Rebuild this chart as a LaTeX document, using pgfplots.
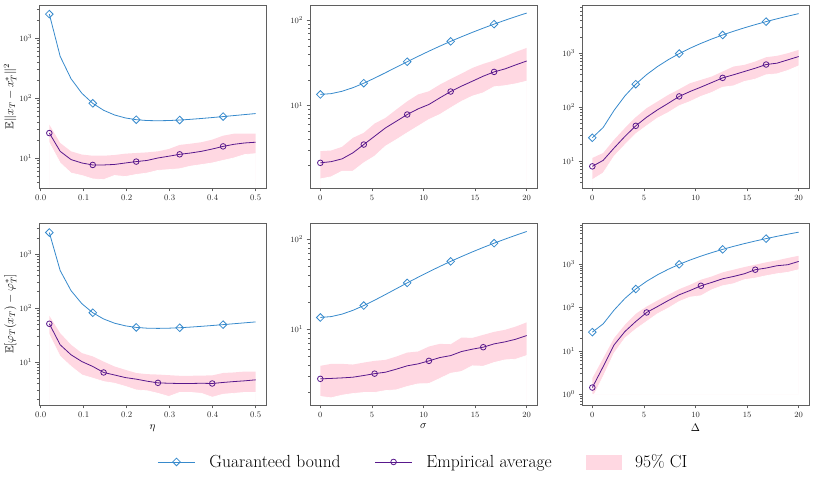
\documentclass[border=0pt]{standalone}
\usepackage{pgfplots}
\usepackage{pgfplotstable}
\usepackage{amssymb}
\pgfplotsset{compat=1.18}
\definecolor{bnd}{RGB}{55,138,204}
\definecolor{emp}{RGB}{88,24,140}
\definecolor{ci}{RGB}{255,216,226}
\definecolor{spine}{RGB}{95,95,95}

\pgfplotstableread{
x b m lo hi
0.02 2503 26 17.8 36
0.04526 493.6 12.9 8.25 17.8
0.07053 209.1 9.4 5.6 12.9
0.09579 119.6 8.25 5.1 11.4
0.12105 81.35 7.65 4.47 10.9
0.14632 62.34 7.65 4.35 10.9
0.17158 52.13 7.8 5.1 11.2
0.19684 46.49 8.25 4.9 11.8
0.22211 43.48 8.7 5.3 12.1
0.24737 42.08 9.1 5.6 12.4
0.27263 41.71 10.0 6.2 12.9
0.29789 42.06 10.7 6.4 14.1
0.32316 42.89 11.5 6.6 16.5
0.34842 44.08 12.1 7.3 17.3
0.37368 45.53 12.9 7.75 18.3
0.39895 47.18 14.1 8.25 20.2
0.42421 48.98 15.6 9.1 23.5
0.44947 50.90 16.9 10.0 25.4
0.47474 52.91 17.8 11.4 25.4
0.5 55.0 18.3 11.8 25.4
}\tA

\pgfplotstableread{
x b m lo hi
0 13.5 2.13 1.38 2.92
1.0526 13.80 2.2 1.46 2.97
2.1053 14.70 2.37 1.70 3.28
3.1579 16.19 2.79 1.70 4.18
4.2105 18.29 3.49 2.13 4.79
5.2632 20.98 4.37 2.55 6.15
6.3158 24.27 5.47 3.34 7.17
7.3684 28.16 6.55 3.98 8.98
8.4211 32.65 7.85 4.79 11.2
9.4737 37.73 9.14 5.73 13.5
10.5263 43.42 10.3 6.86 14.7
11.5789 49.70 12.3 7.85 17.6
12.6316 56.58 14.6 9.4 20.5
13.6842 64.06 16.9 11.2 23.7
14.7368 72.14 19.3 12.9 27.6
15.7895 80.81 22.1 14.1 30.8
16.8421 90.09 24.8 16.6 33.7
17.8947 99.96 26.9 17.1 37.8
18.9474 110.43 30 18 42.6
20 121.5 33.3 19.3 47.4
}\tB

\pgfplotstableread{
x b m lo hi
0 27 7.96 4.5 11.4
1.0526 41.96 10.3 6.0 14.1
2.1053 86.83 17.4 12.2 24.8
3.1579 161.6 28.6 20 40.9
4.2105 266.4 45 32 65
5.2632 401.0 65 45 95.6
6.3158 565.5 89 62.5 127
7.3684 760.0 118 79.5 169
8.4211 984.3 158 106 215
9.4737 1238.6 195 127 278
10.5263 1522.8 235 158 320
11.5789 1837.0 286 187 370
12.6316 2181.1 349 234 458
13.6842 2555.0 398 248 566
14.7368 2958.8 458 299 608
15.7895 3392.7 527 330 701
16.8421 3856.4 617 398 843
17.8947 4350.0 653 414 893
18.9474 4873.5 753 478 1000
20 5427 868 582 1153
}\tC

\pgfplotstableread{
x b m lo hi
0.02 2503 50.8 31.8 71.6
0.04526 493.6 20.7 12.6 34
0.07053 209.1 13.5 8.2 20.7
0.09579 119.6 10.1 5.7 14.5
0.12105 81.35 8.2 4.97 12.6
0.14632 62.34 6.34 4.3 10.1
0.17158 52.13 5.7 4.0 8.2
0.19684 46.49 5.1 3.5 7.1
0.22211 43.48 4.77 3.0 6.2
0.24737 42.08 4.37 2.9 5.9
0.27263 41.71 4.07 2.6 5.8
0.29789 42.06 4.0 2.27 5.65
0.32316 42.89 3.96 2.7 5.5
0.34842 44.08 3.96 2.7 5.5
0.37368 45.53 4.0 2.6 5.55
0.39895 47.18 3.96 2.2 5.6
0.42421 48.98 4.14 2.5 6.2
0.44947 50.90 4.3 2.6 6.35
0.47474 52.91 4.44 2.7 6.6
0.5 55.0 4.63 2.7 6.6
}\tD

\pgfplotstableread{
x b m lo hi
0 13.5 2.81 1.79 3.92
1.0526 13.80 2.84 1.73 4.12
2.1053 14.70 2.88 1.85 4.12
3.1579 16.19 2.93 1.93 4.05
4.2105 18.29 3.06 1.98 4.26
5.2632 20.98 3.21 1.98 4.45
6.3158 24.27 3.33 2.08 4.56
7.3684 28.16 3.6 2.12 4.97
8.4211 32.65 3.92 2.31 5.5
9.4737 37.73 4.12 2.47 5.65
10.5263 43.42 4.45 2.49 6.42
11.5789 49.70 4.84 2.83 6.87
12.6316 56.58 5.09 3.24 6.8
13.6842 64.06 5.65 3.39 8.07
14.7368 72.14 6.0 3.92 8.0
15.7895 80.81 6.31 3.88 8.65
16.8421 90.09 6.87 4.26 9.34
17.8947 99.96 7.23 4.56 9.83
18.9474 110.43 7.74 4.64 10.7
20 121.5 8.5 5.09 11.9
}\tE

\pgfplotstableread{
x b m lo hi
0 27 1.43 0.81 2.34
1.0526 41.96 4.35 2.56 6.77
2.1053 86.83 13.7 8.8 19.6
3.1579 161.6 27.9 19.6 39.8
4.2105 266.4 47.5 31.6 71.4
5.2632 401.0 76.7 47.5 105
6.3158 565.5 105 71.4 145
7.3684 760.0 145 96.5 196
8.4211 984.3 196 137 264
9.4737 1238.6 246 173 333
10.5263 1522.8 316 186 436
11.5789 1837.0 378 256 518
12.6316 2181.1 458 316 644
13.6842 2555.0 518 352 741
14.7368 2958.8 598 436 853
15.7895 3392.7 741 475 965
16.8421 3856.4 809 537 1095
17.8947 4350.0 915 598 1216
18.9474 4873.5 965 644 1380
20 5427 1150 741 1550
}\tF

\pgfplotsset{
  myframe/.style={
    scale only axis, width=227pt, height=183pt,
    axis on top,
    axis line style={spine, line width=0.6pt},
    tick align=outside, tick pos=left,
    major tick length=3.5pt, minor tick length=2pt,
    every tick/.append style={spine, line width=0.6pt},
    tick label style={font=\fontsize{8.5}{10}\selectfont, text=black!85},
    xlabel style={font=\fontsize{10.5}{12}\selectfont},
    ylabel style={font=\fontsize{11.5}{13}\selectfont},
    ylabel shift=-4pt,
  },
  myeta/.style={myframe, xmin=-0.004, xmax=0.524, xtick={0,0.1,0.2,0.3,0.4,0.5},
    xticklabels={0.0,0.1,0.2,0.3,0.4,0.5}},
  mysig/.style={myframe, xmin=-1, xmax=21, xtick={0,5,10,15,20}},
  mylegline/.style={legend image code/.code={%
    \draw[mark repeat=2, mark phase=2, ##1] plot coordinates {(0pt,0pt) (18.5pt,0pt) (37pt,0pt)};}},
  mylegarea/.style={legend image code/.code={%
    \fill[ci] (0pt,-7.2pt) rectangle (35pt,7.2pt);}},
}
\tikzset{
  bline/.style={bnd, line width=0.8pt, mark=square, mark size=2.7pt,
    mark options={solid, fill=none, rotate=45, line width=0.8pt}},
  eline/.style={emp, line width=0.8pt, mark=o, mark size=2.8pt,
    mark options={solid, fill=none, line width=0.8pt}},
}

\newcommand{\drawpanel}[2]{%
  \addplot[fill=ci, draw=none, forget plot] table[x=x,y=hi]{#1} \closedcycle;
  \addplot[fill=white, draw=white, line width=0.7pt, forget plot] table[x=x,y=lo]{#1} \closedcycle;
  \addplot[bline, mark repeat=4, mark phase=1, forget plot] table[x=x,y=b]{#1};
  \addplot[eline, mark repeat=#2, mark phase=1, forget plot] table[x=x,y=m]{#1};
}

\begin{document}
\begin{tikzpicture}
\path[use as bounding box] (0,0) rectangle (814pt,478pt);

\begin{axis}[myeta, ymode=log, at={(39pt,290pt)}, anchor=south west,
  ymin=3.16, ymax=3548, ylabel={$\mathbb{E}\|x_T - x_T^{*}\|^2$}]
\drawpanel{\tA}{4}
\end{axis}
\begin{axis}[mysig, ymode=log, at={(310pt,290pt)}, anchor=south west,
  ymin=1.08, ymax=151]
\drawpanel{\tB}{4}
\end{axis}
\begin{axis}[mysig, ymode=log, at={(582pt,290pt)}, anchor=south west,
  ymin=3.16, ymax=7852]
\drawpanel{\tC}{4}
\end{axis}

\begin{axis}[myeta, ymode=log, at={(39pt,73pt)}, anchor=south west, height=182pt,
  ymin=1.58, ymax=3767, xlabel={$\eta$},
  ylabel={$\mathbb{E}[\varphi_T(x_T) - \varphi_T^{*}]$}]
\drawpanel{\tD}{5}
\end{axis}
\begin{axis}[mysig, ymode=log, at={(310pt,73pt)}, anchor=south west, height=182pt,
  ymin=1.44, ymax=151, xlabel={$\sigma$},
  legend columns=3,
  legend style={at={(0.5,-0.313)}, anchor=center, draw=none, fill=none,
    font=\fontsize{17.5}{20}\selectfont,
    /tikz/every odd column/.append style={column sep=12pt},
    /tikz/every even column/.append style={column sep=32pt}}]
\addlegendimage{bline, mylegline}
\addlegendentry{Guaranteed bound}
\addlegendimage{eline, mylegline}
\addlegendentry{Empirical average}
\addlegendimage{mylegarea}
\addlegendentry{95\% CI}
\drawpanel{\tE}{5}
\end{axis}
\begin{axis}[mysig, ymode=log, at={(582pt,73pt)}, anchor=south west, height=182pt,
  ymin=0.567, ymax=8830, xlabel={$\Delta$}]
\drawpanel{\tF}{5}
\end{axis}
\end{tikzpicture}
\end{document}
